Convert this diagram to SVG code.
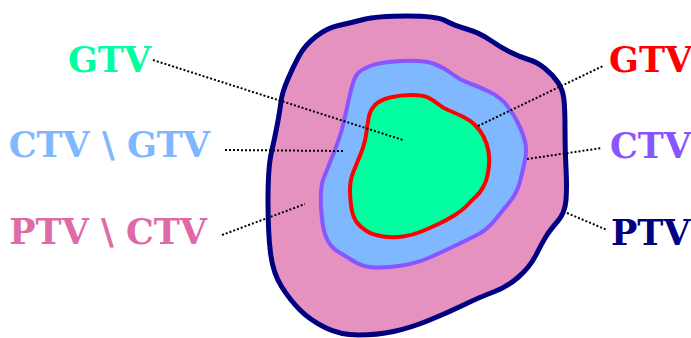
<svg xmlns="http://www.w3.org/2000/svg" width="691" height="338" viewBox="0 0 691 338">
<style>
.lbl{font-family:"DejaVu Serif","Liberation Serif",serif;font-weight:bold;font-size:35px}
.conn line{stroke:#000;stroke-width:2;stroke-dasharray:2 2;fill:none}
.shape{stroke-linejoin:round}
</style>
<rect width="691" height="338" fill="#fff"/>
<g id="ptv">
<path class="shape" fill="#e692c0" stroke="#000080" stroke-width="5" d="M363.5,19.5 Q377,16 407,16 Q437,16 445,20.5 Q453,25 466.5,29 Q480,33 490,40 Q500,47 510,52 Q520,57 528.5,59.5 Q537,62 545,68.5 Q553,75 558,82.5 Q563,90 564,100 Q565,110 565,130 Q565,150 566,168.5 Q567,187 566,200 Q565,213 557.5,221.5 Q550,230 546,236.5 Q542,243 536,255 Q530,267 518.5,277 Q507,287 493.5,292 Q480,297 463.5,305 Q447,313 428.5,320.5 Q410,328 393.5,331.5 Q377,335 358.5,335 Q340,335 325,327.5 Q310,320 300,310 Q290,300 281.5,286.5 Q273,273 270.5,253 Q268,233 268,200 Q268,167 271.5,152 Q275,137 277.5,123.5 Q280,110 281,101.5 Q282,93 287.5,80 Q293,67 299,56 Q305,45 316,36.5 Q327,28 338.5,25.5 Q350,23 363.5,19.5 Z"/>
</g>
<g id="ctv">
<path class="shape" fill="#80b8ff" stroke="#8855ff" stroke-width="4" d="M349,98.5 Q353,80 356.5,75 Q360,70 370,66 Q380,62 401.5,61 Q423,60 433,63.5 Q443,67 451.5,73.5 Q460,80 470,83.5 Q480,87 490,92 Q500,97 506.5,105 Q513,113 518,123 Q523,133 525,141.5 Q527,150 525,160 Q523,170 520,181.5 Q517,193 510,201.5 Q503,210 495,220 Q487,230 477,235 Q467,240 453.5,246.5 Q440,253 428.5,258 Q417,263 402,265.5 Q387,268 375,267.5 Q363,267 355,262 Q347,257 338.5,252 Q330,247 326,237 Q322,227 321,207 Q320,187 323.5,178.5 Q327,170 333.5,153.5 Q340,137 342.5,127 Q345,117 349,98.5 Z"/>
</g>
<g id="gtv">
<path class="shape" fill="#00ffa0" stroke="#ff0000" stroke-width="4" d="M368.5,118.5 Q370,110 375,105 Q380,100 390,97.5 Q400,95 411.5,95 Q423,95 428,97.5 Q433,100 438,104 Q443,108 448,110 Q453,112 461.5,116 Q470,120 475,125 Q480,130 483.5,136.5 Q487,143 488.5,151.5 Q490,160 488.5,170 Q487,180 483.5,186.5 Q480,193 476,196.5 Q472,200 467.5,205 Q463,210 455,215 Q447,220 438.5,224 Q430,228 421.5,231.5 Q413,235 403,236.5 Q393,238 383,236.5 Q373,235 366.5,231 Q360,227 356.5,222 Q353,217 351.5,208.5 Q350,200 350,190 Q350,180 353.5,171.5 Q357,163 361,153 Q365,143 366,135 Q367,127 368.5,118.5 Z"/>
</g>
<g id="connectors" class="conn">
<line x1="153" y1="60" x2="403" y2="140"/>
<line x1="225" y1="150" x2="343" y2="151"/>
<line x1="222" y1="235" x2="305" y2="204"/>
<line x1="478" y1="126" x2="603" y2="66"/>
<line x1="527" y1="159" x2="602" y2="148"/>
<line x1="567" y1="213" x2="607" y2="230"/>
</g>
<g id="label-gtv-left"><text class="lbl" x="151" y="72" text-anchor="end" fill="#00ffa0">GTV</text></g>
<g id="label-ctv-gtv"><text class="lbl" x="210" y="157" text-anchor="end" fill="#80b8ff">CTV \ GTV</text></g>
<g id="label-ptv-ctv"><text class="lbl" x="207" y="244" text-anchor="end" fill="#e06aa8">PTV \ CTV</text></g>
<g id="label-gtv-right"><text class="lbl" x="609" y="72" fill="#ff0000">GTV</text></g>
<g id="label-ctv"><text class="lbl" x="610" y="158" fill="#8855ff">CTV</text></g>
<g id="label-ptv"><text class="lbl" x="611" y="245" fill="#000080">PTV</text></g>
</svg>
